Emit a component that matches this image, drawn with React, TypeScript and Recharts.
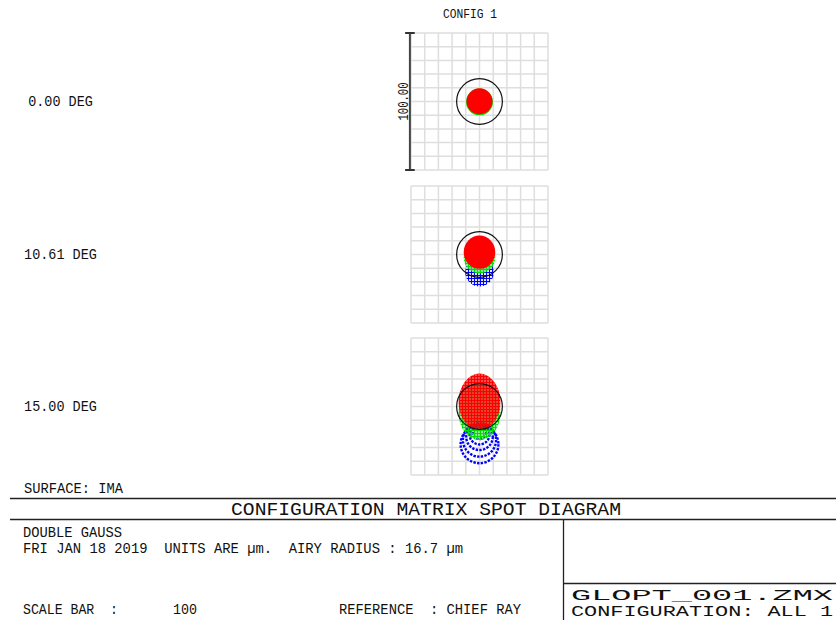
import React from "react";
import { ScatterChart, Scatter, XAxis, YAxis, CartesianGrid, ReferenceLine } from "recharts";

// field angles and chart labels
const fieldLabels = ["0.00 DEG", "10.61 DEG", "15.00 DEG"];
const gridTicks = [-50, -40, -30, -20, -10, 0, 10, 20, 30, 40, 50];
const scaleBar = 100; // um, full panel height
const airyRadius = 16.7; // um
const chief = [{ x: 0, y: 0 }];

// spot blobs per field, um relative to chief ray (y up)
const field1Green = [{ x: 0, y: -0.3, rx: 9.8, ry: 9.8 }];
const field1Red = [{ x: 0, y: 0.1, rx: 9.5, ry: 9.5 }];

const field2Blue = [{ x: 0, y: -12.9, rx: 10.4, ry: 10.4 }];
const field2Green = [{ x: 0, y: -2.2, rx: 11.5, ry: 11.6 }];
const field2Red = [{ x: 0, y: 1.7, rx: 11.5, ry: 12.1 }];

const field3BlueRings = [
  { x: 0, y: -27.6, r: 13.8 },
  { x: 0, y: -24.5, r: 12.1 },
  { x: 0, y: -22.1, r: 9.7 },
  { x: 0, y: -20.4, r: 7.3 },
  { x: 0, y: -18.9, r: 4.8 },
];
const field3Green = [{ x: 0, y: -4.2, rx: 15.3, ry: 20.4 }];
const field3Red = [{ x: 0, y: 3.4, rx: 15.3, ry: 20.6 }];

const K = 137 / 100; // px per um in each panel
const FONT = "'Liberation Mono', 'DejaVu Sans Mono', monospace";

const Blob = (props: any) => {
  const { cx, cy, payload, fill } = props;
  return <ellipse cx={cx} cy={cy} rx={payload.rx * K} ry={payload.ry * K} fill={fill} />;
};

const Ring = (props: any) => {
  const { cx, cy, payload } = props;
  return (
    <circle cx={cx} cy={cy} r={payload.r * K} fill="none" stroke="#0000ff"
      strokeWidth={2.4} strokeDasharray="2.4 1.3" />
  );
};

const Airy = (props: any) => (
  <circle cx={props.cx} cy={props.cy} r={airyRadius * K} fill="none" stroke="#111" strokeWidth={1.2} />
);

const BarLabel = (props: any) => {
  const vb = props.viewBox || {};
  const x = (vb.x ?? 410) - 2;
  const y = (vb.y ?? 33) + (vb.height ?? 137) / 2;
  return (
    <text x={x} y={y} transform={`rotate(-90 ${x} ${y})`} textAnchor="middle" fontFamily={FONT}
      fontSize={14} fill="#111" textLength={38} lengthAdjust="spacingAndGlyphs">
      {scaleBar.toFixed(2)}
    </text>
  );
};

const vGen = ({ offset }: any) => gridTicks.map((t) => offset.left + ((t + 50) / 100) * offset.width);
const hGen = ({ offset }: any) => gridTicks.map((t) => offset.top + ((50 - t) / 100) * offset.height);

function Panel({ top, showBar, children }: { top: number; showBar?: boolean; children: React.ReactNode }) {
  const h = scaleBar / 2;
  return (
    <div style={{ position: "absolute", left: 371, top: top - 8 }}>
      <ScatterChart width={189} height={153} margin={{ top: 8, right: 12, bottom: 8, left: 40 }}>
        <CartesianGrid stroke="#dedede" strokeWidth={1.5}
          verticalCoordinatesGenerator={vGen} horizontalCoordinatesGenerator={hGen} />
        <XAxis type="number" dataKey="x" domain={[-50, 50]} ticks={gridTicks} hide allowDataOverflow />
        <YAxis type="number" dataKey="y" domain={[-50, 50]} ticks={gridTicks} hide allowDataOverflow />
        {children}
        <Scatter data={chief} shape={<Airy />} isAnimationActive={false} />
        {showBar && (
          <ReferenceLine segment={[{ x: -50.8, y: -h }, { x: -50.8, y: h }]} ifOverflow="visible"
            stroke="#444" strokeWidth={2} label={<BarLabel />} />
        )}
        {showBar && (
          <ReferenceLine segment={[{ x: -54.3, y: h }, { x: -47.3, y: h }]} ifOverflow="visible"
            stroke="#333" strokeWidth={2} />
        )}
        {showBar && (
          <ReferenceLine segment={[{ x: -54.3, y: -h }, { x: -47.3, y: -h }]} ifOverflow="visible"
            stroke="#333" strokeWidth={2} />
        )}
      </ScatterChart>
    </div>
  );
}

function T({ x, y, w, size, children }: { x: number; y: number; w: number; size: number; children: React.ReactNode }) {
  return (
    <text x={x} y={y} fontFamily={FONT} fontSize={size} fill="#111" textLength={w}
      lengthAdjust="spacingAndGlyphs" style={{ whiteSpace: "pre" }}>
      {children}
    </text>
  );
}

export default function App() {
  const centers = [101.5, 254.5, 406.5];
  return (
    <div style={{ position: "absolute", left: 0, top: 0, width: 836, height: 620, background: "#fff", overflow: "hidden" }}>
      <svg width={0} height={0} style={{ position: "absolute" }}>
        <defs>
          <pattern id="plusRed" width={3} height={3} patternUnits="userSpaceOnUse">
            <path d="M1.5 0V3M0 1.5H3" stroke="#ff0000" strokeWidth={1.8} />
          </pattern>
          <pattern id="plusGreen" width={3} height={3} patternUnits="userSpaceOnUse">
            <path d="M1.5 0V3M0 1.5H3" stroke="#00e000" strokeWidth={1.4} />
          </pattern>
          <pattern id="plusBlue" width={3} height={3} patternUnits="userSpaceOnUse">
            <path d="M1.5 0V3M0 1.5H3" stroke="#0000ff" strokeWidth={1.2} />
          </pattern>
        </defs>
      </svg>

      <Panel top={33} showBar>
        <Scatter data={field1Green} fill="#00e000" shape={<Blob />} isAnimationActive={false} />
        <Scatter data={field1Red} fill="#ff0000" shape={<Blob />} isAnimationActive={false} />
      </Panel>
      <Panel top={186}>
        <Scatter data={field2Blue} fill="url(#plusBlue)" shape={<Blob />} isAnimationActive={false} />
        <Scatter data={field2Green} fill="url(#plusGreen)" shape={<Blob />} isAnimationActive={false} />
        <Scatter data={field2Red} fill="#ff0000" shape={<Blob />} isAnimationActive={false} />
      </Panel>
      <Panel top={338}>
        <Scatter data={field3BlueRings} shape={<Ring />} isAnimationActive={false} />
        <Scatter data={field3Green} fill="url(#plusGreen)" shape={<Blob />} isAnimationActive={false} />
        <Scatter data={field3Red} fill="url(#plusRed)" shape={<Blob />} isAnimationActive={false} />
      </Panel>

      <svg width={836} height={620} style={{ position: "absolute", left: 0, top: 0, pointerEvents: "none" }}>
        <T x={443} y={18} w={54} size={13}>CONFIG 1</T>
        {fieldLabels.map((s, i) => {
          const w = s.length * 8.2 - 1;
          return (
            <T key={s} x={60.5 - w / 2} y={centers[i] + 4.5} w={w} size={14}>{s}</T>
          );
        })}
        <T x={24} y={493} w={99} size={14}>SURFACE: IMA</T>
        <line x1={10} x2={836} y1={498.5} y2={498.5} stroke="#222" strokeWidth={1.3} />
        <T x={231} y={515} w={390} size={19}>CONFIGURATION MATRIX SPOT DIAGRAM</T>
        <line x1={10} x2={836} y1={519.5} y2={519.5} stroke="#222" strokeWidth={1.3} />
        <line x1={563.5} x2={563.5} y1={519.5} y2={620} stroke="#222" strokeWidth={1.3} />
        <line x1={563.5} x2={836} y1={583.5} y2={583.5} stroke="#222" strokeWidth={1.3} />
        <T x={23} y={537} w={99} size={14}>DOUBLE GAUSS</T>
        <T x={23} y={553} w={440} size={14}>FRI JAN 18 2019  UNITS ARE µm.  AIRY RADIUS : 16.7 µm</T>
        <T x={23} y={614} w={95} size={14}>SCALE BAR  :</T>
        <T x={173} y={614} w={24} size={14}>100</T>
        <T x={339} y={614} w={182} size={14}>REFERENCE  : CHIEF RAY</T>
        <T x={571} y={600} w={262} size={15}>GLOPT_001.ZMX</T>
        <T x={571} y={616} w={262} size={15}>CONFIGURATION: ALL 1</T>
      </svg>
    </div>
  );
}
